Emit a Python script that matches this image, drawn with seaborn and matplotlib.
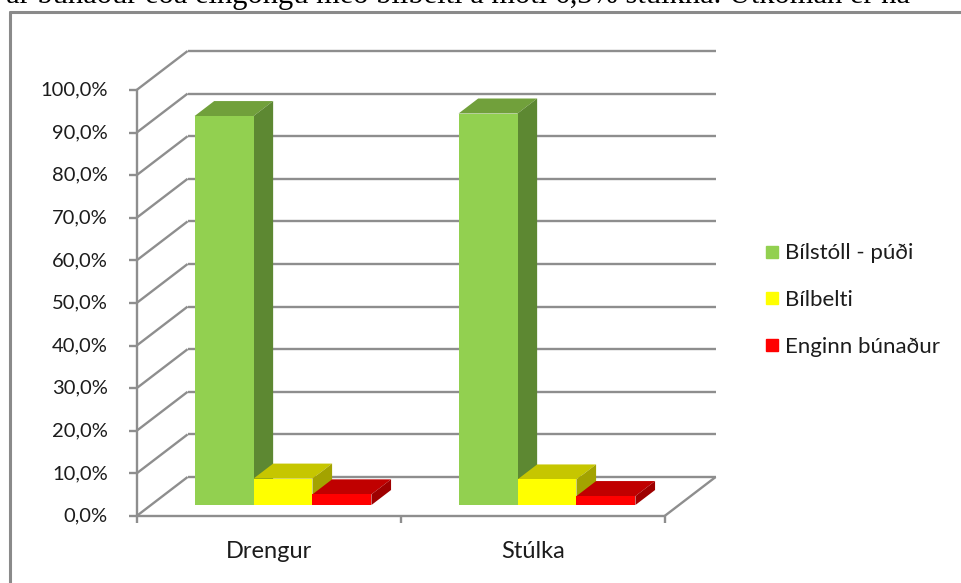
#
# Excel-style 3D bar chart: öryggisbúnaður barna eftir kyni
#

import matplotlib
matplotlib.use("Agg")
import matplotlib.pyplot as plt
from matplotlib.colors import to_hex
from matplotlib.lines import Line2D
from matplotlib.patches import Polygon
import pandas as pd
import seaborn as sns

# --- data -------------------------------------------------------------
kyn = ["Drengur", "Stúlka"]
bunadur = ["Bílstóll - púði", "Bílbelti", "Enginn búnaður"]
bilstoll = [91.3, 91.9]
bilbelti = [6.2, 6.0]
enginn = [2.5, 2.1]
y_ticks = [0, 10, 20, 30, 40, 50, 60, 70, 80, 90, 100]
y_labels = ["0,0%", "10,0%", "20,0%", "30,0%", "40,0%", "50,0%",
            "60,0%", "70,0%", "80,0%", "90,0%", "100,0%"]
efri_texti = "ar búnaður eða eingöngu með bílbelti á móti 6,3% stúlkna. Útkoman er ná"

front_colors = ["#92D050", "#FFFF00", "#FF0000"]
top_colors = ["#71A03B", "#C6C600", "#C00000"]
side_colors = ["#5D8832", "#A3A300", "#9E0000"]
grid_color = "#8E8E8E"
text_color = "#1C1C1C"

df = pd.DataFrame({
    "kyn": kyn * 3,
    "bunadur": [b for b in bunadur for _ in kyn],
    "hlutfall": bilstoll + bilbelti + enginn,
})

# --- figure / axes (axes = plane of the bars' front faces) -------------
W, H = 962, 583
sns.set_style("white")
plt.rcParams["font.family"] = ["Lato", "DejaVu Sans"]

fig = plt.figure(figsize=(W / 100, H / 100), dpi=100)
left, right, bottom, top = 151, 679, 505, 79  # pixel box of the bar plane
ax = fig.add_axes([left / W, (H - bottom) / H, (right - left) / W, (bottom - top) / H])
ax.set_xlim(-0.5, 1.5)
ax.set_ylim(0, 100)
ax.axis("off")

ppc = (right - left) / 2.0        # pixels per category
ppp = (bottom - top) / 100.0      # pixels per percent
DX, DY = 51 / ppc, 39 / ppp       # full depth of the box in data units
D0 = 11 / 39                      # depth of the bars' front face
BAR_D = 15 / 39                   # depth of a bar


def at(x, y, d):
    """front plane is d=0, back wall d=1"""
    return (x + (d - D0) * DX, y + (d - D0) * DY)


def line(p, q, **kw):
    ax.add_line(Line2D([p[0], q[0]], [p[1], q[1]], color=grid_color, lw=1.7,
                       clip_on=False, zorder=1, solid_capstyle="butt", **kw))


# walls and floor
for v in y_ticks:
    line(at(-0.5, v, 1), at(1.5, v, 1))
    line(at(-0.5, v, 0), at(-0.5, v, 1))
line(at(-0.5, 0, 0), at(1.5, 0, 0))
line(at(1.5, 0, 0), at(1.5, 0, 1))
line(at(-0.5, 0, 0), at(-0.5, 100, 0))

# ticks and labels
for v, lab in zip(y_ticks, y_labels):
    x0, y0 = at(-0.5, v, 0)
    line((x0 - 8 / ppc, y0), (x0, y0))
    ax.text(x0 - 29 / ppc, y0, lab, ha="right", va="center", fontsize=14.5,
            color=text_color, clip_on=False)
for xt in [-0.5, 0.5, 1.5]:
    x0, y0 = at(xt, 0, 0)
    line((x0, y0), (x0, y0 - 7 / ppp))
for i, k in enumerate(kyn):
    x0, y0 = at(i, 0, 0)
    ax.text(x0, y0 - 36 / ppp, k, ha="center", va="center", fontsize=17,
            color=text_color, clip_on=False)

# front faces from seaborn
sns.barplot(data=df, x="kyn", y="hlutfall", hue="bunadur", order=kyn,
            hue_order=bunadur, palette=front_colors, width=0.67, saturation=1,
            linewidth=0, legend=False, ax=ax)
ax.set_xlim(-0.5, 1.5)
ax.set_ylim(0, 100)

# top and side faces, drawn left to right so the later bars overlap
bars = sorted(ax.patches, key=lambda p: p.get_x())
for n, p in enumerate(bars):
    j = [c.upper() for c in front_colors].index(to_hex(p.get_facecolor()).upper())
    x0, w, h = p.get_x(), p.get_width(), p.get_height()
    ox, oy = BAR_D * DX, BAR_D * DY
    top_face = [(x0, h), (x0 + w, h), (x0 + w + ox, h + oy), (x0 + ox, h + oy)]
    side_face = [(x0 + w, 0), (x0 + w, h), (x0 + w + ox, h + oy), (x0 + w + ox, oy)]
    ax.add_patch(Polygon(top_face, closed=True, fc=top_colors[j], ec="none",
                         zorder=10 + 3 * n, clip_on=False))
    ax.add_patch(Polygon(side_face, closed=True, fc=side_colors[j], ec="none",
                         zorder=11 + 3 * n, clip_on=False))
    p.set_zorder(12 + 3 * n)
    p.set_clip_on(False)

# legend
handles = [Line2D([0], [0], marker="s", ls="", markersize=8.5, color=c) for c in front_colors]
fig.legend(handles, bunadur, loc="center left", bbox_to_anchor=(745 / W, (H - 300) / H),
           frameon=False, handlelength=0.6, handletextpad=0.3, labelspacing=1.2,
           fontsize=16, labelcolor=text_color)

# page border and the cut-off document text above the chart
fig.add_artist(Line2D([10 / W, 10 / W], [0, (H - 12) / H], color="#8A8A8A", lw=2.2))
fig.add_artist(Line2D([10 / W, 1], [(H - 12) / H, (H - 12) / H], color="#8A8A8A", lw=2.2))
fig.text(6 / W, 1 - 3 / H, efri_texti, family="Liberation Serif", fontsize=22,
         va="baseline", color="black")

fig.savefig("out.png", dpi=100)
